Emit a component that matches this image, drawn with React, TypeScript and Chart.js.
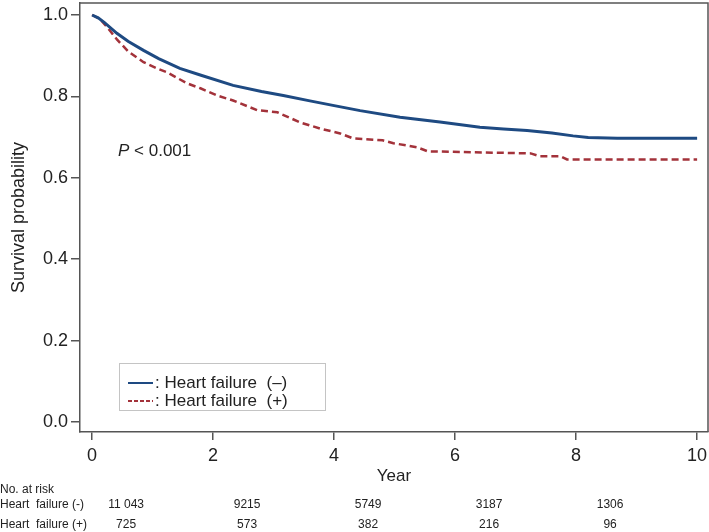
import React, { useEffect, useRef } from 'react';
import { Chart, registerables } from 'chart.js';

Chart.register(...registerables);

// ---- data ----
const hfNegTime = [0, 0.1, 0.2, 0.41, 0.6, 0.85, 1.1, 1.45, 1.8, 2.33, 2.8, 3.16, 3.6, 3.98, 4.43, 5.09, 5.75, 6.41, 6.8, 7.19, 7.6, 7.95, 8.2, 8.68, 10];
const hfNegSurv = [1.0, 0.993, 0.982, 0.955, 0.935, 0.913, 0.893, 0.869, 0.852, 0.827, 0.812, 0.802, 0.789, 0.778, 0.765, 0.749, 0.737, 0.724, 0.72, 0.716, 0.71, 0.703, 0.699, 0.697, 0.697];

const hfPosTime = [0, 0.13, 0.25, 0.41, 0.6, 0.85, 1.07, 1.24, 1.57, 1.79, 2.07, 2.33, 2.73, 3.06, 3.44, 3.77, 4.1, 4.31, 4.8, 4.98, 5.37, 5.55, 7.25, 7.4, 7.74, 7.85, 10];
const hfPosSurv = [1.0, 0.99, 0.97, 0.94, 0.91, 0.884, 0.869, 0.859, 0.832, 0.82, 0.802, 0.79, 0.766, 0.761, 0.736, 0.721, 0.709, 0.697, 0.692, 0.685, 0.675, 0.665, 0.66, 0.653, 0.653, 0.645, 0.645];

const xTickValues = [0, 2, 4, 6, 8, 10];
const yTickValues = [0, 0.2, 0.4, 0.6, 0.8, 1.0];

const seriesLabels = ['Heart failure  (\u2013)', 'Heart failure  (+)'];
const riskTitle = 'No. at risk';
const riskRowLabels = ['Heart  failure (-)', 'Heart  failure (+)'];
const riskTimes = [0, 2, 4, 6, 8];
const riskNeg = ['11 043', '9215', '5749', '3187', '1306'];
const riskPos = ['725', '573', '382', '216', '96'];

const xTitle = 'Year';
const yTitle = 'Survival probability';
const pText = ' < 0.001';

const BLUE = '#1e4a82';
const RED = '#a3323a';
const AXIS = '#555555';
const TEXT = '#222222';
const FONT = '"Liberation Sans", Arial, sans-serif';

const overlayPlugin = {
  id: 'overlay',
  afterDraw(chart: any) {
    const { ctx, chartArea, scales } = chart;
    const { left, top, right, bottom } = chartArea;
    const xs = scales.x;
    ctx.save();

    // top & right frame
    ctx.strokeStyle = AXIS;
    ctx.lineWidth = 1.5;
    ctx.beginPath();
    ctx.moveTo(left, top);
    ctx.lineTo(right, top);
    ctx.lineTo(right, bottom);
    ctx.stroke();

    ctx.fillStyle = TEXT;

    // axis titles
    ctx.font = `17px ${FONT}`;
    ctx.textAlign = 'center';
    ctx.textBaseline = 'middle';
    ctx.fillText(xTitle, (left + right) / 2, 476);
    ctx.save();
    ctx.font = `18px ${FONT}`;
    ctx.translate(19, (top + bottom) / 2);
    ctx.rotate(-Math.PI / 2);
    ctx.fillText(yTitle, 0, 0);
    ctx.restore();

    // P value
    ctx.textAlign = 'left';
    ctx.font = `italic 17px ${FONT}`;
    ctx.fillText('P', 118, 151);
    const pw = ctx.measureText('P').width;
    ctx.font = `17px ${FONT}`;
    ctx.fillText(pText, 118 + pw, 151);

    // legend
    ctx.strokeStyle = '#c4c4c4';
    ctx.lineWidth = 1;
    ctx.strokeRect(119.5, 363.5, 206, 47);
    ctx.lineWidth = 2;
    ctx.strokeStyle = BLUE;
    ctx.beginPath();
    ctx.moveTo(128, 383);
    ctx.lineTo(153, 383);
    ctx.stroke();
    ctx.strokeStyle = RED;
    ctx.setLineDash([4, 2]);
    ctx.beginPath();
    ctx.moveTo(128, 401);
    ctx.lineTo(153, 401);
    ctx.stroke();
    ctx.setLineDash([]);
    ctx.font = `17px ${FONT}`;
    ctx.fillStyle = TEXT;
    ctx.fillText(': ' + seriesLabels[0], 155, 383);
    ctx.fillText(': ' + seriesLabels[1], 155, 401);

    // risk table
    ctx.font = `12px ${FONT}`;
    ctx.textAlign = 'left';
    ctx.fillText(riskTitle, 0, 490);
    ctx.fillText(riskRowLabels[0], 0, 505);
    ctx.fillText(riskRowLabels[1], 0, 525);
    ctx.textAlign = 'center';
    riskTimes.forEach((t, i) => {
      const px = xs.getPixelForValue(t) + 34;
      ctx.fillText(riskNeg[i], px, 505);
      ctx.fillText(riskPos[i], px, 525);
    });

    ctx.restore();
  },
};

export default function App() {
  const canvasRef = useRef<HTMLCanvasElement | null>(null);

  useEffect(() => {
    if (!canvasRef.current) return;
    Chart.defaults.font.family = FONT;
    const chart = new Chart(canvasRef.current, {
      type: 'line',
      data: {
        datasets: [
          {
            label: seriesLabels[0],
            data: hfNegTime.map((t, i) => ({ x: t, y: hfNegSurv[i] })),
            borderColor: BLUE,
            borderWidth: 3,
            pointRadius: 0,
            tension: 0,
            fill: false,
          },
          {
            label: seriesLabels[1],
            data: hfPosTime.map((t, i) => ({ x: t, y: hfPosSurv[i] })),
            borderColor: RED,
            borderWidth: 2.5,
            borderDash: [7, 4],
            pointRadius: 0,
            tension: 0,
            fill: false,
          },
        ],
      },
      options: {
        animation: false,
        responsive: false,
        devicePixelRatio: 1,
        layout: { padding: { top: 3, right: 1, left: 0, bottom: 0 } },
        plugins: {
          legend: { display: false },
          tooltip: { enabled: false },
          title: { display: false },
        },
        scales: {
          x: {
            type: 'linear',
            min: -0.2,
            max: 10.18,
            afterBuildTicks: (s: any) => {
              s.ticks = xTickValues.map((v) => ({ value: v }));
            },
            afterFit: (s: any) => {
              s.height = 100;
              s.paddingLeft = 0;
              s.paddingRight = 0;
            },
            ticks: {
              color: TEXT,
              font: { size: 18 },
              padding: 5,
              maxRotation: 0,
              callback: (v: any) => String(v),
            },
            grid: {
              drawOnChartArea: false,
              drawTicks: true,
              tickLength: 8,
              color: AXIS,
              lineWidth: 1.5,
            },
            border: { display: true, color: AXIS, width: 1.5 },
          },
          y: {
            type: 'linear',
            min: -0.0246,
            max: 1.0295,
            afterBuildTicks: (s: any) => {
              s.ticks = yTickValues.map((v) => ({ value: v }));
            },
            afterFit: (s: any) => {
              s.width = 80;
              s.paddingTop = 0;
              s.paddingBottom = 0;
            },
            ticks: {
              color: TEXT,
              font: { size: 18 },
              padding: 3,
              callback: (v: any) => Number(v).toFixed(1),
            },
            grid: {
              drawOnChartArea: false,
              drawTicks: true,
              tickLength: 9,
              color: AXIS,
              lineWidth: 1.5,
            },
            border: { display: true, color: AXIS, width: 1.5 },
          },
        },
      },
      plugins: [overlayPlugin],
    });
    return () => chart.destroy();
  }, []);

  return (
    <div style={{ position: 'fixed', left: 0, top: 0, width: 709, height: 532, background: '#fff' }}>
      <canvas ref={canvasRef} width={709} height={532} style={{ display: 'block' }} />
    </div>
  );
}
